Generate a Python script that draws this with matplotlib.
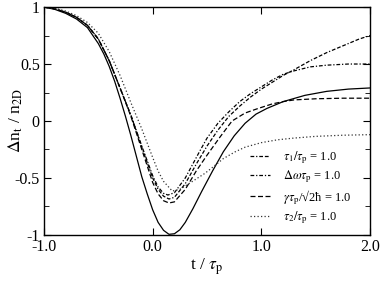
import matplotlib
matplotlib.use("Agg")
import matplotlib.pyplot as plt
from matplotlib.ticker import MultipleLocator

plt.rcParams['font.family'] = ['Liberation Serif', 'DejaVu Serif']
plt.rcParams['mathtext.fontset'] = 'stix'
plt.rcParams['axes.unicode_minus'] = False

# values
t_solid = [-1.0, -0.9, -0.8, -0.7, -0.6, -0.5, -0.45, -0.4, -0.35, -0.3, -0.25, -0.2,
           -0.15, -0.1, -0.05, 0.0, 0.05, 0.1, 0.15, 0.2, 0.25, 0.3, 0.37, 0.45,
           0.55, 0.65, 0.75, 0.85, 0.95, 1.05, 1.2, 1.4, 1.6, 1.8, 2.0]
n_solid = [1.0, 0.98, 0.945, 0.895, 0.82, 0.68, 0.59, 0.48, 0.35, 0.2, 0.04, -0.13,
           -0.31, -0.49, -0.64, -0.78, -0.89, -0.96, -0.995, -0.99, -0.955, -0.89, -0.77, -0.62,
           -0.44, -0.27, -0.13, -0.02, 0.06, 0.11, 0.17, 0.225, 0.26, 0.28, 0.29]

t_tau1 = [-1.0, -0.9, -0.8, -0.7, -0.6, -0.5, -0.4, -0.3, -0.2, -0.1, 0.0, 0.05, 0.1,
          0.15, 0.2, 0.3, 0.4, 0.5, 0.6, 0.7, 0.8, 0.9, 1.0, 1.1, 1.2, 1.3, 1.45,
          1.6, 1.75, 1.9, 2.0]
n_tau1 = [1.0, 0.985, 0.955, 0.91, 0.84, 0.72, 0.53, 0.29, 0.05, -0.23, -0.5, -0.6, -0.66,
          -0.685, -0.67, -0.55, -0.38, -0.22, -0.08, 0.04, 0.13, 0.21, 0.28, 0.34, 0.4, 0.45, 0.53,
          0.6, 0.66, 0.72, 0.75]

t_dw = [-1.0, -0.9, -0.8, -0.7, -0.6, -0.5, -0.4, -0.3, -0.2, -0.1, 0.0, 0.05, 0.1,
        0.14, 0.2, 0.3, 0.43, 0.5, 0.6, 0.7, 0.8, 0.9, 1.0, 1.1, 1.2, 1.3, 1.45,
        1.6, 1.8, 2.0]
n_dw = [1.0, 0.985, 0.955, 0.91, 0.84, 0.72, 0.53, 0.29, 0.05, -0.22, -0.48, -0.58, -0.635,
        -0.65, -0.63, -0.5, -0.27, -0.15, -0.02, 0.08, 0.17, 0.24, 0.3, 0.36, 0.41, 0.44, 0.475,
        0.49, 0.5, 0.5]

t_gam = [-1.0, -0.9, -0.8, -0.7, -0.6, -0.5, -0.4, -0.3, -0.2, -0.1, 0.0, 0.05, 0.1,
         0.15, 0.2, 0.3, 0.4, 0.5, 0.62, 0.73, 0.85, 0.97, 1.1, 1.2, 1.3, 1.5, 1.75, 2.0]
n_gam = [1.0, 0.985, 0.955, 0.91, 0.84, 0.72, 0.53, 0.29, 0.04, -0.25, -0.54, -0.64, -0.7,
         -0.72, -0.71, -0.6, -0.44, -0.3, -0.14, 0.0, 0.07, 0.11, 0.15, 0.17, 0.185, 0.195, 0.2, 0.2]

t_tau2 = [-1.0, -0.9, -0.8, -0.7, -0.6, -0.5, -0.4, -0.3, -0.2, -0.1, 0.0, 0.05, 0.1,
          0.18, 0.25, 0.35, 0.48, 0.56, 0.65, 0.76, 0.85, 1.0, 1.15, 1.3, 1.5, 1.75, 2.0]
n_tau2 = [1.0, 0.99, 0.965, 0.925, 0.865, 0.77, 0.61, 0.4, 0.16, -0.07, -0.32, -0.44, -0.53,
          -0.615, -0.6, -0.54, -0.46, -0.4, -0.33, -0.27, -0.23, -0.19, -0.165, -0.15, -0.135, -0.125, -0.12]

labels = [r'$\tau_{\rm 1}/\tau_{\rm p}$ = 1.0',
          r'$\Delta\omega\tau_{\rm p}$ = 1.0',
          r'$\gamma\tau_{\rm p}$/√2ħ = 1.0',
          r'$\tau_{\rm 2}/\tau_{\rm p}$ = 1.0']

fig = plt.figure(figsize=(3.82, 2.83), dpi=100)
ax = fig.add_axes([0.115, 0.17, 0.854, 0.805])

lw = 0.9
ax.plot(t_solid, n_solid, color='black', lw=lw)
ax.plot(t_tau1, n_tau1, color='black', lw=lw, linestyle=(0, (3, 1.5, 1, 1.5, 3, 1.5, 3, 1.5)), label=labels[0])
ax.plot(t_dw, n_dw, color='black', lw=lw, linestyle=(0, (3, 1.5, 1, 1.5)), label=labels[1])
ax.plot(t_gam, n_gam, color='black', lw=lw, linestyle=(0, (4, 2)), label=labels[2])
ax.plot(t_tau2, n_tau2, color='#333333', lw=lw, linestyle=(0, (1, 1.8)), label=labels[3])

ax.set_xlim(-1, 2)
ax.set_ylim(-1, 1)
ax.set_xticks([-1, 0, 1, 2])
ax.set_xticklabels(['-1.0', '0.0', '1.0', '2.0'])
ax.set_yticks([-1, -0.5, 0, 0.5, 1])
ax.set_yticklabels(['-1', '-0.5', '0', '0.5', '1'])
ax.yaxis.set_minor_locator(MultipleLocator(0.25))
ax.tick_params(which='both', direction='in', top=True, right=True, labelsize=11.5, pad=3)
ax.tick_params(which='major', length=5)
ax.tick_params(which='minor', length=3.5)
for s in ax.spines.values():
    s.set_linewidth(1.0)

ax.set_xlabel(r't / $\tau_{\rm p}$', fontsize=12.5, labelpad=1)
ax.set_ylabel(r'$\Delta$n$_{\rm t}$ / n$_{\rm 2D}$', fontsize=12.5)
ax.yaxis.set_label_coords(-0.058, 0.5)

ax.legend(loc='lower left', frameon=False, fontsize=9, handlelength=1.6,
          handletextpad=1.0, labelspacing=0.2, borderpad=0, borderaxespad=0,
          bbox_to_anchor=(0.632, 0.04))

fig.savefig('out.png', dpi=100)
